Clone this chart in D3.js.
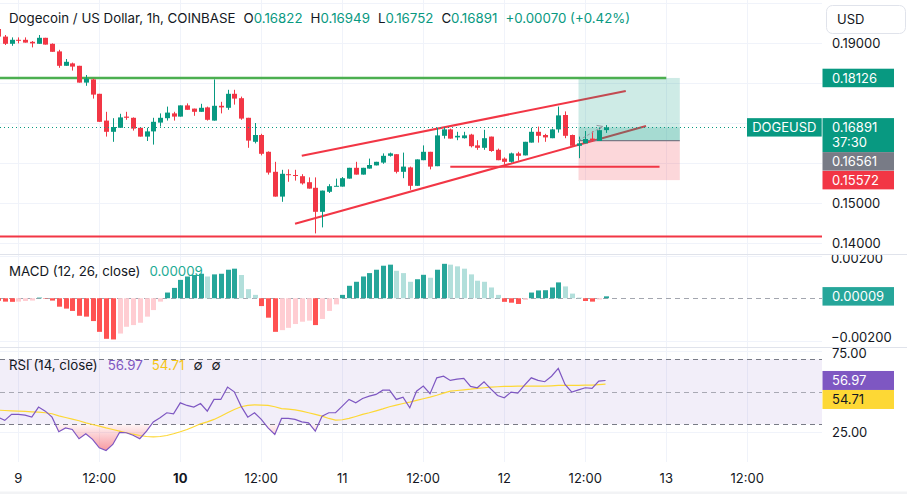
<!DOCTYPE html>
<html lang="en">
<head>
<meta charset="UTF-8">
<title>DOGEUSD 1h</title>
<style>
  body { margin: 0; background: #fff; }
  svg { display: block; font-family: Inter, "Noto Sans", sans-serif; }
  .tick-label { font-size: 13px; fill: #131722; }
  .legend { font-size: 13.3px; fill: #131722; }
  .tag-text { font-size: 13px; fill: #fff; }
</style>
</head>
<body>
<svg id="chart" width="907" height="494"></svg>
<script src="https://cdnjs.cloudflare.com/ajax/libs/d3/7.8.5/d3.min.js"></script>
<script>
// hourly bars, first one is Mar 8 21:00
var opens = [0.1935, 0.1916, 0.1898, 0.1908, 0.1908, 0.1903, 0.1898, 0.1913, 0.1898, 0.1879,
  0.1843, 0.1849, 0.1843, 0.1801, 0.1809, 0.1773, 0.1706, 0.1678, 0.1688, 0.1716,
  0.1713, 0.1688, 0.1666, 0.1679, 0.1701, 0.1712, 0.1724, 0.1716, 0.1744, 0.1736,
  0.1728, 0.1739, 0.1706, 0.1743, 0.1738, 0.1773, 0.1762, 0.1713, 0.1653, 0.1670,
  0.1628, 0.1578, 0.1516, 0.1572, 0.1570, 0.1567, 0.1552, 0.1538, 0.1478, 0.1528,
  0.1542, 0.1541, 0.1561, 0.1588, 0.1571, 0.1586, 0.1594, 0.1601, 0.1618, 0.1622,
  0.1578, 0.1589, 0.1543, 0.1607, 0.1628, 0.1592, 0.1668, 0.1684, 0.1664, 0.1662,
  0.1671, 0.1644, 0.1638, 0.1666, 0.1633, 0.1611, 0.1603, 0.1624, 0.1619, 0.1651,
  0.1678, 0.1670, 0.1662, 0.1684, 0.1720, 0.1670, 0.1643, 0.1649, 0.1661, 0.1655,
  0.16822];
var highs = [0.1940, 0.1920, 0.1914, 0.1914, 0.1914, 0.1905, 0.1920, 0.1913, 0.1899, 0.1883,
  0.1860, 0.1851, 0.1843, 0.1820, 0.1811, 0.1773, 0.1728, 0.1712, 0.1723, 0.1728,
  0.1714, 0.1688, 0.1688, 0.1713, 0.1724, 0.1741, 0.1728, 0.1744, 0.1749, 0.1736,
  0.1748, 0.1741, 0.1809, 0.1753, 0.1783, 0.1783, 0.1766, 0.1713, 0.1700, 0.1673,
  0.1629, 0.1603, 0.1583, 0.1584, 0.1583, 0.1572, 0.1564, 0.1564, 0.1531, 0.1547,
  0.1561, 0.1565, 0.1588, 0.1603, 0.1588, 0.1611, 0.1603, 0.1624, 0.1626, 0.1622,
  0.1626, 0.1591, 0.1609, 0.1644, 0.1628, 0.1688, 0.1688, 0.1686, 0.1678, 0.1678,
  0.1673, 0.1657, 0.1683, 0.1666, 0.1636, 0.1614, 0.1626, 0.1628, 0.1653, 0.1688,
  0.1691, 0.1673, 0.1686, 0.1741, 0.1729, 0.1671, 0.1666, 0.1680, 0.1679, 0.1689,
  0.16949];
var lows = [0.1914, 0.1895, 0.1893, 0.1899, 0.1901, 0.1889, 0.1898, 0.1896, 0.1878, 0.1838,
  0.1843, 0.1831, 0.1801, 0.1793, 0.1761, 0.1703, 0.1666, 0.1653, 0.1688, 0.1708,
  0.1681, 0.1666, 0.1655, 0.1646, 0.1691, 0.1706, 0.1706, 0.1716, 0.1733, 0.1718,
  0.1728, 0.1706, 0.1706, 0.1724, 0.1733, 0.1746, 0.1708, 0.1638, 0.1649, 0.1619,
  0.1571, 0.1516, 0.1503, 0.1553, 0.1556, 0.1546, 0.1536, 0.1424, 0.1439, 0.1525,
  0.1542, 0.1541, 0.1561, 0.1571, 0.1571, 0.1586, 0.1594, 0.1598, 0.1616, 0.1574,
  0.1562, 0.1533, 0.1543, 0.1607, 0.1584, 0.1592, 0.1661, 0.1661, 0.1657, 0.1661,
  0.1639, 0.1633, 0.1633, 0.1628, 0.1607, 0.1596, 0.1601, 0.1606, 0.1619, 0.1651,
  0.1651, 0.1653, 0.1662, 0.1676, 0.1662, 0.1642, 0.1612, 0.1649, 0.1653, 0.1655,
  0.16752];
var closes = [0.1916, 0.1898, 0.1908, 0.1906, 0.1901, 0.1899, 0.1913, 0.1896, 0.1878, 0.1843,
  0.1853, 0.1841, 0.1801, 0.1811, 0.1771, 0.1703, 0.1678, 0.1690, 0.1714, 0.1713,
  0.1686, 0.1666, 0.1679, 0.1703, 0.1713, 0.1726, 0.1716, 0.1744, 0.1733, 0.1728,
  0.1738, 0.1708, 0.1743, 0.1739, 0.1773, 0.1761, 0.1711, 0.1656, 0.1670, 0.1623,
  0.1576, 0.1516, 0.1573, 0.1570, 0.1568, 0.1549, 0.1536, 0.1478, 0.1531, 0.1542,
  0.1543, 0.1562, 0.1588, 0.1571, 0.1588, 0.1595, 0.1603, 0.1618, 0.1624, 0.1578,
  0.1591, 0.1543, 0.1609, 0.1628, 0.1591, 0.1669, 0.1684, 0.1661, 0.1668, 0.1669,
  0.1642, 0.1638, 0.1662, 0.1630, 0.1607, 0.1603, 0.1624, 0.1618, 0.1653, 0.1678,
  0.1668, 0.1664, 0.1684, 0.1719, 0.1668, 0.1643, 0.1649, 0.1660, 0.1656, 0.16821,
  0.16891];

var macdHist = [-0.00012, -0.00016, -0.00017, -0.00016, -0.00013, -0.00011, 0.00003, -0.00002, -0.00011, -0.0004,
  -0.00049, -0.0006, -0.00083, -0.00087, -0.00108, -0.00159, -0.00192, -0.00195, -0.00167, -0.00135,
  -0.00127, -0.00116, -0.00087, -0.00056, -0.00016, 0.00027, 0.00049, 0.00087, 0.00103, 0.0011,
  0.00116, 0.00103, 0.00113, 0.00116, 0.00135, 0.0014, 0.0011, 0.00043, 0.00016, -0.00037,
  -0.00092, -0.00159, -0.00151, -0.0014, -0.00122, -0.00111, -0.00106, -0.00127, -0.00098, -0.0006,
  -0.00029, 0.00016, 0.00059, 0.00078, 0.00103, 0.00119, 0.00135, 0.00154, 0.00159, 0.0013,
  0.00119, 0.00078, 0.0009, 0.00111, 0.00097, 0.00135, 0.00163, 0.00159, 0.00151, 0.0014,
  0.00113, 0.00083, 0.00078, 0.00051, 0.00016, -0.00017, -0.00021, -0.00027, -0.00008, 0.00027,
  0.00037, 0.00038, 0.00051, 0.00075, 0.00056, 0.00022, 0.00003, -0.00013, -0.00016, -0.00006,
  0.00009];

var rsiValues = [34.4, 32.4, 36.1, 36.1, 35.6, 34.4, 40.6, 38.1, 34.4, 25.4,
  27.8, 26.8, 21.1, 24.2, 20.7, 15.5, 13.9, 17.6, 25.0, 24.8,
  23.3, 21.1, 25.8, 31.5, 34.0, 37.1, 36.5, 43.2, 41.6, 40.6,
  42.8, 38.1, 45.3, 45.3, 52.9, 50.0, 41.2, 34.4, 37.1, 33.0,
  27.8, 23.7, 33.6, 33.6, 33.0, 31.5, 30.9, 25.8, 35.0, 37.1,
  37.1, 41.2, 45.3, 43.2, 45.9, 47.3, 48.4, 51.0, 51.0, 45.3,
  46.7, 40.2, 50.4, 53.5, 48.8, 58.6, 59.6, 57.0, 57.8, 58.2,
  53.3, 52.5, 56.2, 51.8, 47.7, 46.3, 49.8, 49.2, 54.1, 58.6,
  57.0, 56.2, 59.6, 64.4, 54.5, 49.8, 51.2, 52.5, 52.1, 56.6,
  56.97];
var rsiMaValues = [38.7, 38.5, 38.3, 38.1, 37.9, 37.7, 37.5, 37.1, 36.5, 35.2,
  34.2, 33.2, 32.2, 30.9, 29.9, 28.9, 27.8, 26.8, 25.8, 24.8,
  23.9, 23.1, 22.5, 22.3, 22.5, 23.1, 24.2, 25.4, 26.8, 28.5,
  30.3, 31.5, 33.0, 35.0, 37.1, 39.1, 40.8, 41.6, 42.0, 41.8,
  41.6, 40.8, 39.7, 39.3, 38.9, 38.1, 37.1, 36.1, 35.0, 33.6,
  32.6, 32.8, 33.6, 34.8, 36.1, 37.1, 38.3, 39.5, 40.8, 41.8,
  42.8, 43.6, 44.7, 45.7, 46.7, 47.9, 49.2, 50.4, 50.8, 51.2,
  51.6, 52.1, 52.5, 52.9, 53.1, 53.3, 53.3, 53.5, 53.5, 53.5,
  53.5, 53.5, 53.7, 53.9, 53.9, 53.9, 53.9, 54.1, 54.1, 54.4,
  54.71];

var priceTicks = [0.14, 0.15, 0.16, 0.17, 0.18, 0.19, 0.20];
var macdTicks = [-0.002, 0.002];
var rsiTicks = [25, 75];

// drawings: [hours from Mar 9 00:00, price]
var upperChannel = [[42, 0.16183], [90, 0.17800]];
var lowerChannel = [[41, 0.14483], [93, 0.16925]];
var supportLine = [[64, 0.15908], [95, 0.15908]];
var resistanceLine = [[-10, 0.18126], [96, 0.18126]];
var bottomLevel = 0.1416;
var positionHours = [83, 98];
var positionPrices = [0.18126, 0.16561, 0.15572]; // target, entry, stop

var plotW = 822;
var up = "#089981", down = "#f23645";

var day0 = Date.UTC(2025, 2, 9);
function hourDate(h) { return new Date(day0 + h * 36e5); }
var barDates = opens.map(function(d, i) { return hourDate(i - 3); });

var x = d3.scaleUtc().domain([hourDate(-2.71), hourDate(119.07)]).range([0, plotW]);
var y = d3.scaleLinear().domain([0.14, 0.19]).range([243, 43]);
var yMacd = d3.scaleLinear().domain([-0.002, 0.002]).range([340.5, 256]);
var yRsi = d3.scaleLinear().domain([30, 70]).range([424.3, 359.3]);

var svg = d3.select("#chart");
var defs = svg.append("defs");
function clip(id, x0, y0, w, h) {
  defs.append("clipPath").attr("id", id).append("rect")
    .attr("x", x0).attr("y", y0).attr("width", w).attr("height", h);
}
clip("clipMain", 0, 0, plotW, 254);
clip("clipMacd", 0, 255, plotW, 92);
clip("clipRsi", 0, 348, plotW, 114);
clip("clipMacdAxis", plotW, 255, 85, 92);
clip("clipRsiAxis", plotW, 348, 85, 114);

svg.append("rect").attr("width", 907).attr("height", 494).attr("fill", "#fff");
svg.append("rect").attr("x", 0).attr("y", 491.5).attr("width", 907).attr("height", 3).attr("fill", "#f2f3f5");

// vertical grid + time labels
var timeTicks = x.ticks(d3.utcHour.every(12));
svg.append("g").selectAll("line").data(timeTicks).enter().append("line")
  .attr("x1", function(d) { return Math.round(x(d)) + 0.5; })
  .attr("x2", function(d) { return Math.round(x(d)) + 0.5; })
  .attr("y1", 0).attr("y2", 462)
  .attr("stroke", "#f0f3fa");
svg.append("g").selectAll("text").data(timeTicks).enter().append("text")
  .attr("class", "tick-label")
  .attr("x", function(d) { return x(d); })
  .attr("y", 478).attr("dy", "0.35em")
  .attr("text-anchor", "middle")
  .style("font-weight", function(d) { return d.getUTCHours() === 0 && d.getUTCDay() === 1 ? 700 : 400; })
  .text(function(d) { return d.getUTCHours() === 0 ? d.getUTCDate() : "12:00"; });

// horizontal grids
function hgrid(vals, scale) {
  svg.append("g").selectAll("line").data(vals).enter().append("line")
    .attr("x1", 0).attr("x2", plotW)
    .attr("y1", function(d) { return Math.round(scale(d)) + 0.5; })
    .attr("y2", function(d) { return Math.round(scale(d)) + 0.5; })
    .attr("stroke", "#f0f3fa");
}
hgrid(priceTicks, y);
hgrid(macdTicks, yMacd);
hgrid(rsiTicks, yRsi);

// ---------- main pane ----------
var mainG = svg.append("g").attr("clip-path", "url(#clipMain)");
var line = d3.line()
  .x(function(d) { return x(hourDate(d[0])); })
  .y(function(d) { return y(d[1]); });

[upperChannel, lowerChannel, supportLine].forEach(function(seg) {
  mainG.append("path").attr("d", line(seg)).attr("stroke", down)
    .attr("stroke-width", 2).attr("fill", "none");
});
mainG.append("line").attr("x1", 0).attr("x2", plotW)
  .attr("y1", y(bottomLevel)).attr("y2", y(bottomLevel))
  .attr("stroke", down).attr("stroke-width", 2);

// long position box
var px0 = x(hourDate(positionHours[0])), px1 = x(hourDate(positionHours[1]));
var lastClose = closes[closes.length - 1];
mainG.append("rect").attr("x", px0).attr("width", px1 - px0)
  .attr("y", y(positionPrices[0])).attr("height", y(positionPrices[1]) - y(positionPrices[0]))
  .attr("fill", "rgba(8,153,129,0.2)");
mainG.append("rect").attr("x", px0).attr("width", px1 - px0)
  .attr("y", y(lastClose)).attr("height", y(positionPrices[1]) - y(lastClose))
  .attr("fill", "rgba(8,153,129,0.2)");
mainG.append("rect").attr("x", px0).attr("width", px1 - px0)
  .attr("y", y(positionPrices[1])).attr("height", y(positionPrices[2]) - y(positionPrices[1]))
  .attr("fill", "rgba(242,54,69,0.2)");
mainG.append("line").attr("x1", px0).attr("x2", px1)
  .attr("y1", y(positionPrices[1])).attr("y2", y(positionPrices[1]))
  .attr("stroke", "#787b86").attr("stroke-width", 1.2);

mainG.append("path").attr("d", line(resistanceLine)).attr("stroke", "#4caf50")
  .attr("stroke-width", 2.5).attr("fill", "none");

// candles
var bars = barDates.map(function(d, i) {
  return { date: d, o: opens[i], h: highs[i], l: lows[i], c: closes[i] };
});
var cg = mainG.selectAll(".candle").data(bars).enter().append("g").attr("class", "candle");
cg.append("line")
  .attr("x1", function(d) { return Math.round(x(d.date)) + 0.5; })
  .attr("x2", function(d) { return Math.round(x(d.date)) + 0.5; })
  .attr("y1", function(d) { return y(d.h); })
  .attr("y2", function(d) { return y(d.l); })
  .attr("stroke", function(d) { return d.c >= d.o ? up : down; });
cg.append("rect")
  .attr("x", function(d) { return Math.round(x(d.date)) - 2; })
  .attr("width", 5)
  .attr("y", function(d) { return y(Math.max(d.o, d.c)); })
  .attr("height", function(d) { return Math.max(1, Math.abs(y(d.o) - y(d.c))); })
  .attr("fill", function(d) { return d.c >= d.o ? up : down; });

// last price dotted line
mainG.append("line").attr("x1", 0).attr("x2", plotW)
  .attr("y1", Math.round(y(lastClose)) + 0.5).attr("y2", Math.round(y(lastClose)) + 0.5)
  .attr("stroke", up).attr("stroke-dasharray", "1,3");

// trade path arrow
var ax0 = px0, ay0 = y(positionPrices[1]);
var ax1 = x(barDates[barDates.length - 1]) - 3, ay1 = y(lastClose) - 1;
mainG.append("line").attr("x1", ax0).attr("y1", ay0).attr("x2", ax1).attr("y2", ay1)
  .attr("stroke", "#9598a1").attr("stroke-dasharray", "3,2");
mainG.append("path")
  .attr("d", "M" + (ax1 - 6) + "," + (ay1 - 1) + "L" + ax1 + "," + ay1 + "L" + (ax1 - 4) + "," + (ay1 + 4))
  .attr("stroke", "#9598a1").attr("fill", "none");

// legend
var last = bars[bars.length - 1];
var chg = last.c - closes[closes.length - 2];
var f5 = d3.format(".5f");
var legend = svg.append("text").attr("class", "legend").attr("x", 9).attr("y", 18).attr("dy", "0.35em");
legend.append("tspan").text("Dogecoin / US Dollar, 1h, COINBASE");
[["O", last.o], ["H", last.h], ["L", last.l], ["C", last.c]].forEach(function(p) {
  legend.append("tspan").attr("dx", 8).text(p[0]);
  legend.append("tspan").attr("fill", up).text(f5(p[1]));
});
legend.append("tspan").attr("dx", 8).attr("fill", up)
  .text("+" + f5(chg) + " (+" + d3.format(".2f")(chg / closes[closes.length - 2] * 100) + "%)");

// ---------- MACD pane ----------
var macdG = svg.append("g").attr("clip-path", "url(#clipMacd)");
macdG.append("line").attr("x1", 0).attr("x2", plotW)
  .attr("y1", Math.round(yMacd(0)) + 0.5).attr("y2", Math.round(yMacd(0)) + 0.5)
  .attr("stroke", "#a3a6af").attr("stroke-dasharray", "5,4");
macdG.selectAll(".hist").data(macdHist).enter().append("rect")
  .attr("x", function(d, i) { return Math.round(x(barDates[i])) - 2; })
  .attr("width", 5)
  .attr("y", function(d) { return Math.min(yMacd(d), yMacd(0)); })
  .attr("height", function(d) { return Math.abs(yMacd(d) - yMacd(0)); })
  .attr("fill", function(d, i) {
    var prev = i > 0 ? macdHist[i - 1] : d;
    if (d >= 0) return prev < d ? "#26a69a" : "#b2dfdb";
    return prev < d ? "#ffcdd2" : "#ff5252";
  });
var macdLegend = svg.append("text").attr("class", "legend").attr("x", 9).attr("y", 271).attr("dy", "0.35em");
macdLegend.append("tspan").text("MACD (12, 26, close)");
macdLegend.append("tspan").attr("dx", 9).attr("fill", "#22ab94").text(f5(macdHist[macdHist.length - 1]));

// ---------- RSI pane ----------
var rsiG = svg.append("g").attr("clip-path", "url(#clipRsi)");
rsiG.append("rect").attr("x", 0).attr("width", plotW)
  .attr("y", yRsi(70)).attr("height", yRsi(30) - yRsi(70))
  .attr("fill", "rgba(126,87,194,0.1)");
[70, 50, 30].forEach(function(v) {
  rsiG.append("line").attr("x1", 0).attr("x2", plotW)
    .attr("y1", Math.round(yRsi(v)) + 0.5).attr("y2", Math.round(yRsi(v)) + 0.5)
    .attr("stroke", "#787b86").attr("stroke-opacity", v === 50 ? 0.6 : 1)
    .attr("stroke-dasharray", "5,4");
});
var grad = defs.append("linearGradient").attr("id", "oversold")
  .attr("gradientUnits", "userSpaceOnUse")
  .attr("x1", 0).attr("x2", 0).attr("y1", yRsi(30)).attr("y2", yRsi(0));
grad.append("stop").attr("offset", 0).attr("stop-color", down).attr("stop-opacity", 0.05);
grad.append("stop").attr("offset", 1).attr("stop-color", down).attr("stop-opacity", 0.9);
defs.append("clipPath").attr("id", "belowThirty").append("rect")
  .attr("x", 0).attr("y", yRsi(30)).attr("width", plotW).attr("height", 60);
rsiG.append("g").attr("clip-path", "url(#belowThirty)").append("path")
  .datum(rsiValues)
  .attr("d", d3.area()
    .x(function(d, i) { return x(barDates[i]); })
    .y0(yRsi(30))
    .y1(function(d) { return yRsi(d); }))
  .attr("fill", "url(#oversold)");
rsiG.append("path").datum(rsiMaValues)
  .attr("d", d3.line().x(function(d, i) { return x(barDates[i]); }).y(function(d) { return yRsi(d); }))
  .attr("fill", "none").attr("stroke", "#fdd835").attr("stroke-width", 1.2);
rsiG.append("path").datum(rsiValues)
  .attr("d", d3.line().x(function(d, i) { return x(barDates[i]); }).y(function(d) { return yRsi(d); }))
  .attr("fill", "none").attr("stroke", "#7e57c2").attr("stroke-width", 1.2);

var f2 = d3.format(".2f");
var rsiLegend = svg.append("text").attr("class", "legend").attr("x", 9).attr("y", 365).attr("dy", "0.35em");
rsiLegend.append("tspan").text("RSI (14, close)");
rsiLegend.append("tspan").attr("dx", 10).attr("fill", "#7e57c2").text(f2(rsiValues[rsiValues.length - 1]));
rsiLegend.append("tspan").attr("dx", 9).attr("fill", "#f5c518").text(f2(rsiMaValues[rsiMaValues.length - 1]));
rsiLegend.append("tspan").attr("dx", 9).text("\u2205");
rsiLegend.append("tspan").attr("dx", 9).text("\u2205");

// ---------- right axis ----------
var axisX = 832;
var priceTags = [
  { y: y(positionPrices[0]), fill: up, lines: [f5(positionPrices[0])] },
  { y: y(lastClose), fill: up, lines: [f5(lastClose), "37:30"] },
  { y: y(positionPrices[1]), fill: "#787b86", lines: [f5(positionPrices[1])] },
  { y: y(positionPrices[2]), fill: down, lines: [f5(positionPrices[2])] }
];
// tick labels that sit under a price tag are not drawn
var tagSpan = [y(positionPrices[0]) - 9, y(positionPrices[0]) + 9, y(lastClose) - 9, y(positionPrices[2]) + 10];
var shownTicks = priceTicks.filter(function(d) {
  var py = y(d);
  if (d > 0.195) return false;
  return !((py > tagSpan[0] - 8 && py < tagSpan[1] + 8) || (py > tagSpan[2] - 8 && py < tagSpan[3] + 8));
});
svg.append("g").selectAll("text").data(shownTicks)
  .enter().append("text").attr("class", "tick-label")
  .attr("x", axisX).attr("y", function(d) { return y(d); }).attr("dy", "0.35em")
  .text(function(d) { return f5(d); });
// pane edge labels sit half under the separators
svg.append("g").attr("clip-path", "url(#clipMacdAxis)").selectAll("text").data(macdTicks)
  .enter().append("text").attr("class", "tick-label")
  .attr("x", axisX - 1).attr("y", function(d) { return d > 0 ? yMacd(d) + 2 : yMacd(d) - 3; }).attr("dy", "0.35em")
  .text(function(d) { return (d < 0 ? "\u22120" : "0") + f5(Math.abs(d)).slice(1); });
svg.append("g").attr("clip-path", "url(#clipRsiAxis)").selectAll("text").data(rsiTicks)
  .enter().append("text").attr("class", "tick-label")
  .attr("x", axisX).attr("y", function(d) { return d > 50 ? yRsi(d) + 2 : yRsi(d); }).attr("dy", "0.35em")
  .text(function(d) { return f2(d); });

function drawTags(list, lineH) {
  var prevBottom = -Infinity;
  list.forEach(function(t) {
    var h = lineH * t.lines.length + (t.lines.length > 1 ? -3 : 0);
    var top = Math.max(t.y - lineH / 2, prevBottom);
    prevBottom = top + h;
    svg.append("rect").attr("x", 822.5).attr("y", top).attr("width", 71.5).attr("height", h)
      .attr("fill", t.fill);
    t.lines.forEach(function(s, k) {
      svg.append("text").attr("class", "tag-text").attr("x", axisX)
        .attr("y", top + lineH / 2 + k * (lineH - 3)).attr("dy", "0.35em")
        .style("fill", t.text || "#fff").text(s);
    });
  });
}
drawTags(priceTags, 18.5);
drawTags([{ y: yMacd(macdHist[macdHist.length - 1]), fill: "#26a69a", lines: [f5(macdHist[macdHist.length - 1])] }], 18.5);
drawTags([
  { y: yRsi(rsiValues[rsiValues.length - 1]), fill: "#7e57c2", lines: [f2(rsiValues[rsiValues.length - 1])] },
  { y: yRsi(rsiMaValues[rsiMaValues.length - 1]), fill: "#fdd835", text: "#131722", lines: [f2(rsiMaValues[rsiMaValues.length - 1])] }
], 19);

// symbol tag left of the axis
svg.append("rect").attr("x", 747).attr("y", y(lastClose) - 9.2).attr("width", 74.7).attr("height", 18.4).attr("fill", up);
svg.append("text").attr("class", "tag-text").attr("x", 784.3).attr("y", y(lastClose)).attr("dy", "0.35em")
  .attr("text-anchor", "middle").text("DOGEUSD");

// currency button
svg.append("rect").attr("x", 826.5).attr("y", 5.5).attr("width", 79).attr("height", 28).attr("rx", 6)
  .attr("fill", "#fff").attr("stroke", "#e0e3eb");
svg.append("text").attr("class", "tick-label").attr("x", 837).attr("y", 19.5).attr("dy", "0.35em").text("USD");

// pane separators
[254.5, 347.5].forEach(function(v) {
  svg.append("line").attr("x1", 0).attr("x2", 907).attr("y1", v).attr("y2", v)
    .attr("stroke", "#e0e3eb").attr("stroke-width", 1.2);
});
</script>
</body>
</html>
